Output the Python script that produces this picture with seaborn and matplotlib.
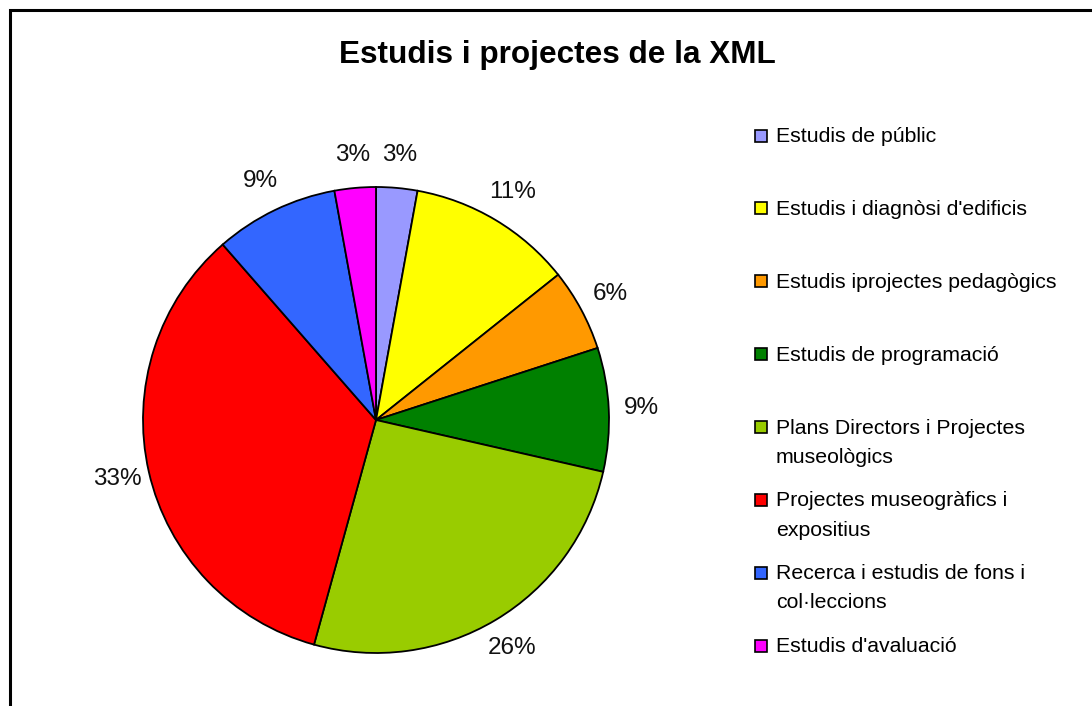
import seaborn as sns
import matplotlib.pyplot as plt
from matplotlib.patches import Rectangle

# Estudis i projectes de la XML - counts per category
categories = [
    "Estudis de públic",
    "Estudis i diagnòsi d'edificis",
    "Estudis iprojectes pedagògics",
    "Estudis de programació",
    "Plans Directors i Projectes\nmuseològics",
    "Projectes museogràfics i\nexpositius",
    "Recerca i estudis de fons i\ncol·leccions",
    "Estudis d'avaluació",
]
counts = [1, 4, 2, 3, 9, 12, 3, 1]
pct_labels = ["3%", "11%", "6%", "9%", "26%", "33%", "9%", "3%"]
colors = ["#9999FF", "#FFFF00", "#FF9900", "#008000",
          "#99CC00", "#FF0000", "#3366FF", "#FF00FF"]

sns.set_theme(style="white")
plt.rcParams['font.family'] = ['Liberation Sans', 'DejaVu Sans']

W, H = 1092, 706
fig = plt.figure(figsize=(W / 100, H / 100), dpi=100)
fig.patch.set_facecolor('white')

# pie axes: centre (376,420) px, radius 233 px
ax = fig.add_axes([(376 - 233) / W, (H - 420 - 233) / H, 466 / W, 466 / H])
wedges, texts = ax.pie(counts, labels=pct_labels, colors=colors, startangle=90,
                       counterclock=False, labeldistance=1.14,
                       wedgeprops=dict(edgecolor='black', linewidth=1.3),
                       textprops=dict(fontsize=17.5, color='#111111'))
for t in texts:
    t.set_ha('center')
    t.set_va('center')
    t.set_clip_on(False)
ax.set_xlim(-1, 1)
ax.set_ylim(-1, 1)
ax.set_aspect('equal')
ax.axis('off')

fig.text(557 / W, 1 - 63 / H, "Estudis i projectes de la XML",
         ha='center', va='baseline', fontsize=22.7, fontweight='bold', color='black')

# legend drawn by hand so the marker sits on the first line of wrapped labels
base0 = 142
step = 72.9
line_h = 29
for i, (name, c) in enumerate(zip(categories, colors)):
    yb = base0 + i * step
    fig.patches.append(Rectangle((755 / W, 1 - (yb - 0.5) / H), 11.5 / W, 12 / H,
                                 transform=fig.transFigure, facecolor=c,
                                 edgecolor='black', linewidth=1.2))
    for k, line in enumerate(name.split("\n")):
        fig.text(776 / W, 1 - (yb + k * line_h) / H, line, ha='left', va='baseline',
                 fontsize=15.3, color='black')

# chart area border (runs off the right and bottom of the image)
fig.patches.append(Rectangle((9.5 / W, -0.1), 1.2, 1 - 10.5 / H + 0.1,
                             transform=fig.transFigure, fill=False,
                             edgecolor='black', linewidth=2.2))

plt.savefig('out.png', dpi=100)
